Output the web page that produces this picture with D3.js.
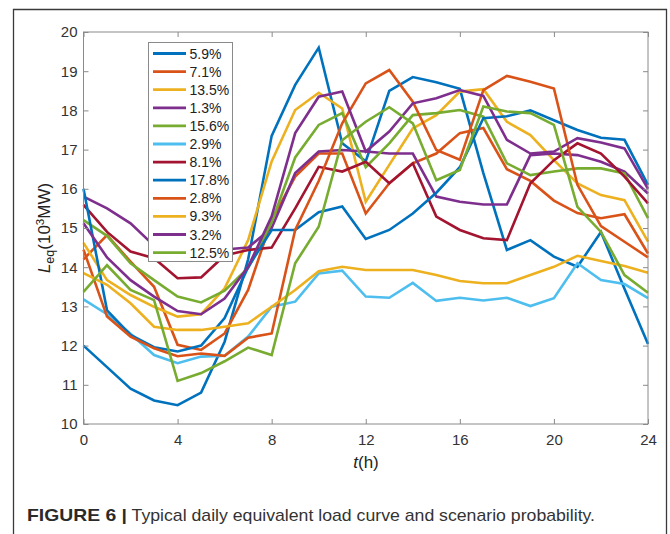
<!DOCTYPE html>
<html>
<head>
<meta charset="utf-8">
<script src="https://cdn.jsdelivr.net/npm/d3@7"></script>
<style>
  html, body { margin: 0; padding: 0; background: #fff; }
  svg { display: block; }
  text { font-family: "Liberation Sans", Arial, Helvetica, sans-serif; }
</style>
</head>
<body>
<svg id="chart" width="670" height="534"></svg>
<script>
// ---------------- data ----------------
const hours = d3.range(0, 25);
const xTicks = [0, 4, 8, 12, 16, 20, 24];
const yTicks = [10, 11, 12, 13, 14, 15, 16, 17, 18, 19, 20];
const legendLabels = ["5.9%", "7.1%", "13.5%", "1.3%", "15.6%", "2.9%", "8.1%", "17.8%", "2.8%", "9.3%", "3.2%", "12.5%"];
const seriesColors = ["#0072BD", "#D95319", "#EDB120", "#7E2F8E", "#77AC30", "#4DBEEE", "#A2142F",
                      "#0072BD", "#D95319", "#EDB120", "#7E2F8E", "#77AC30"];

const s59  = [12.0, 11.45, 10.9, 10.6, 10.48, 10.8, 12.1, 14.2, 17.35, 18.65, 19.6, 17.16, 16.7, 18.5, 18.85, 18.72, 18.55, 16.4, 14.44, 14.69, 14.27, 14.01, 14.9, 13.45, 12.04];
const s71  = [14.2, 14.82, 14.14, 13.5, 12.02, 11.89, 12.31, 13.42, 15.2, 16.31, 16.9, 16.9, 15.37, 16.14, 16.65, 16.9, 17.42, 17.55, 16.5, 16.2, 15.7, 15.38, 15.25, 15.35, 14.35];
const s135 = [14.62, 13.67, 13.29, 12.99, 12.74, 12.8, 13.46, 14.69, 16.7, 18.01, 18.45, 18.05, 15.67, 16.61, 17.54, 17.88, 18.48, 18.54, 17.71, 17.37, 16.73, 16.14, 15.84, 15.71, 14.65];
const s13  = [15.8, 15.5, 15.12, 14.55, 14.35, 14.35, 14.45, 14.5, 15.0, 16.4, 16.95, 16.99, 16.95, 16.9, 16.9, 15.8, 15.67, 15.6, 15.6, 16.86, 16.9, 16.86, 16.69, 16.44, 15.88];
const s156 = [15.2, 14.8, 14.1, 13.67, 13.25, 13.1, 13.4, 13.98, 15.15, 16.8, 17.63, 17.93, 16.55, 17.16, 17.88, 17.93, 18.01, 17.84, 16.65, 16.35, 16.44, 16.52, 16.52, 16.39, 15.25];
const s29  = [13.18, 12.8, 12.3, 11.76, 11.55, 11.72, 11.74, 12.23, 12.99, 13.12, 13.84, 13.91, 13.25, 13.22, 13.6, 13.14, 13.22, 13.15, 13.22, 13.01, 13.21, 14.1, 13.67, 13.57, 13.21];
const s81  = [15.59, 14.9, 14.4, 14.23, 13.72, 13.74, 14.3, 14.44, 14.5, 15.5, 16.56, 16.44, 16.69, 16.14, 16.65, 15.29, 14.95, 14.74, 14.69, 16.14, 16.73, 17.16, 16.9, 16.31, 15.63];
const s178 = [16.0, 12.9, 12.27, 11.96, 11.85, 12.0, 12.7, 14.0, 14.95, 14.95, 15.4, 15.55, 14.72, 14.95, 15.37, 15.9, 16.55, 17.8, 17.85, 18.0, 17.75, 17.5, 17.3, 17.25, 16.1];
const s28  = [14.45, 12.74, 12.23, 11.93, 11.73, 11.8, 11.74, 12.2, 12.31, 14.95, 16.2, 17.67, 18.69, 19.03, 18.22, 16.99, 16.74, 18.52, 18.88, 18.73, 18.56, 16.1, 15.05, 14.65, 14.25];
const s93  = [13.85, 13.55, 13.08, 12.48, 12.4, 12.4, 12.48, 12.57, 12.99, 13.42, 13.9, 14.01, 13.93, 13.93, 13.93, 13.8, 13.65, 13.59, 13.59, 13.8, 14.01, 14.29, 14.16, 14.03, 13.86];
const s32  = [15.12, 14.25, 13.67, 13.25, 12.88, 12.8, 13.2, 14.01, 15.3, 17.42, 18.35, 18.48, 16.95, 17.46, 18.18, 18.31, 18.52, 18.37, 17.25, 16.9, 16.95, 17.29, 17.18, 17.03, 16.0];
const s125 = [13.37, 14.05, 13.42, 13.16, 11.1, 11.3, 11.6, 11.95, 11.76, 14.1, 15.03, 17.24, 17.71, 18.08, 17.67, 16.22, 16.48, 18.1, 17.97, 17.93, 17.63, 15.54, 14.9, 13.8, 13.35];

const seriesValues = [s59, s71, s135, s13, s156, s29, s81, s178, s28, s93, s32, s125];

// ---------------- layout ----------------
const svg = d3.select("#chart");
const L = 83.5, R = 648, T = 32, B = 424;
const x = d3.scaleLinear().domain([0, 24]).range([L, R]);
const y = d3.scaleLinear().domain([10, 20]).range([B, T]);
const axisColor = "#8a8a8a";
const textColor = "#333";

// outer figure frame
svg.append("path")
  .attr("d", "M13.5,540 L13.5,9.5 L666.5,9.5 L666.5,540")
  .attr("fill", "none").attr("stroke", "#3a3a3a").attr("stroke-width", 1.3);

// plot background
svg.append("rect").attr("x", L).attr("y", T).attr("width", R - L).attr("height", B - T).attr("fill", "#fff");

// lines
const line = d3.line().x((d, i) => x(hours[i])).y(d => y(d));
const gLines = svg.append("g");
seriesValues.forEach((vals, k) => {
  gLines.append("path")
    .datum(vals)
    .attr("d", line)
    .attr("fill", "none")
    .attr("stroke", seriesColors[k])
    .attr("stroke-width", 2.6)
    .attr("stroke-linejoin", "miter");
});

// axes
function styleAxis(g) {
  g.select(".domain").remove();
  g.selectAll(".tick line").attr("stroke", axisColor).attr("stroke-width", 1);
  g.selectAll(".tick text").attr("fill", textColor).style("font-size", "15px");
}
svg.append("g").attr("transform", `translate(0,${B})`)
  .call(d3.axisBottom(x).tickValues(xTicks).tickSize(-5).tickPadding(10).tickFormat(d3.format("d")))
  .call(styleAxis);
svg.append("g").attr("transform", `translate(0,${T})`)
  .call(d3.axisTop(x).tickValues(xTicks).tickSize(-5).tickFormat(""))
  .call(styleAxis);
svg.append("g").attr("transform", `translate(${L},0)`)
  .call(d3.axisLeft(y).tickValues(yTicks).tickSize(-5).tickPadding(6).tickFormat(d3.format("d")))
  .call(styleAxis);
svg.append("g").attr("transform", `translate(${R},0)`)
  .call(d3.axisRight(y).tickValues(yTicks).tickSize(-5).tickFormat(""))
  .call(styleAxis);

// box
svg.append("rect").attr("x", L).attr("y", T).attr("width", R - L).attr("height", B - T)
  .attr("fill", "none").attr("stroke", axisColor).attr("stroke-width", 1);

// legend
const lg = svg.append("g");
lg.append("rect").attr("x", 148.5).attr("y", 42.5).attr("width", 84).attr("height", 219)
  .attr("fill", "#fff").attr("stroke", "#8a8a8a").attr("stroke-width", 1);
legendLabels.forEach((lab, k) => {
  const yy = 53.5 + k * 18.1;
  lg.append("line").attr("x1", 153).attr("x2", 186).attr("y1", yy).attr("y2", yy)
    .attr("stroke", seriesColors[k]).attr("stroke-width", 2.8);
  lg.append("text").attr("x", 189.5).attr("y", yy + 5).text(lab)
    .attr("fill", "#222").style("font-size", "14px");
});

// y label
const yl = svg.append("text")
  .attr("transform", "translate(50,228) rotate(-90)")
  .attr("text-anchor", "middle")
  .attr("fill", "#222")
  .style("font-size", "17px");
yl.append("tspan").text("L").style("font-style", "italic");
yl.append("tspan").text("eq").attr("dy", 4).style("font-size", "12.5px");
yl.append("tspan").text("(10").attr("dy", -4);
yl.append("tspan").text("3").attr("dy", -6).style("font-size", "11.5px");
yl.append("tspan").text("MW)").attr("dy", 6);

// x label
const xl = svg.append("text").attr("x", 366).attr("y", 468).attr("text-anchor", "middle")
  .attr("fill", "#222").style("font-size", "17px");
xl.append("tspan").text("t").style("font-style", "italic");
xl.append("tspan").text("(h)");

// caption
const cap = svg.append("text").attr("x", 27).attr("y", 521).attr("fill", "#333").style("font-size", "17px");
cap.append("tspan").text("FIGURE 6 |").style("font-weight", "bold").attr("fill", "#2a2a2a")
  .attr("textLength", 100).attr("lengthAdjust", "spacingAndGlyphs");
cap.append("tspan").text(" Typical daily equivalent load curve and scenario probability.")
  .attr("textLength", 468).attr("lengthAdjust", "spacingAndGlyphs");
</script>
</body>
</html>
